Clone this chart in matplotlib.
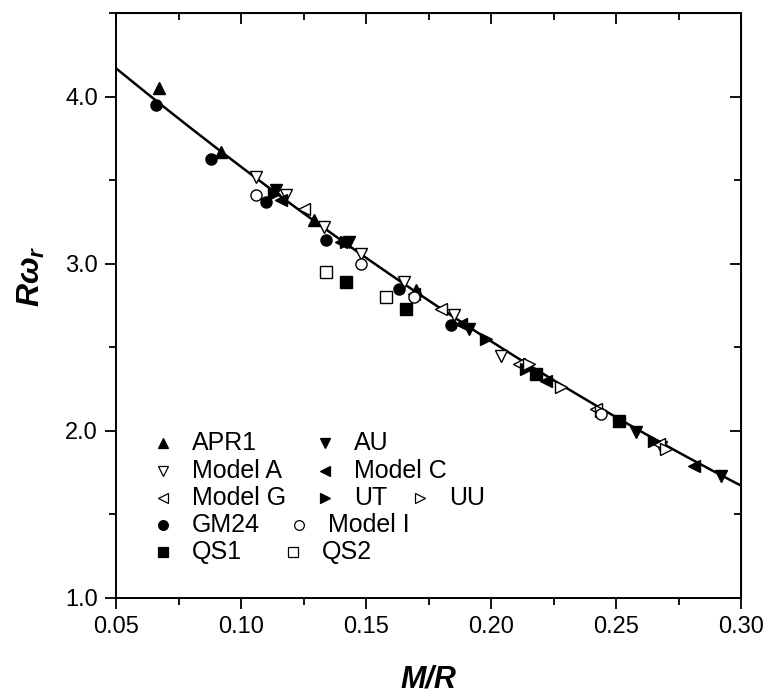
import numpy as np
import matplotlib
matplotlib.use("Agg")
import matplotlib.pyplot as plt
from matplotlib.ticker import MultipleLocator, FormatStrFormatter

plt.rcParams['font.family'] = ['Liberation Sans', 'DejaVu Sans']
plt.rcParams['mathtext.fontset'] = 'custom'
plt.rcParams['mathtext.it'] = 'Liberation Sans:italic:bold'
plt.rcParams['mathtext.rm'] = 'Liberation Sans:bold'

# compactness M/R and scaled r-mode frequency R*omega_r for each EOS
apr1_x = [0.067, 0.092, 0.129, 0.170]
apr1_y = [4.05, 3.67, 3.26, 2.84]
au_x = [0.114, 0.143, 0.191, 0.258, 0.292]
au_y = [3.44, 3.13, 2.61, 1.99, 1.73]
modelA_x = [0.106, 0.118, 0.133, 0.148, 0.165, 0.185, 0.204, 0.268]
modelA_y = [3.52, 3.41, 3.22, 3.06, 2.89, 2.69, 2.45, 1.90]
modelC_x = [0.116, 0.140, 0.169, 0.188, 0.222, 0.281]
modelC_y = [3.38, 3.13, 2.82, 2.64, 2.30, 1.79]
modelG_x = [0.125, 0.180, 0.211, 0.242, 0.267]
modelG_y = [3.33, 2.73, 2.40, 2.13, 1.92]
ut_x = [0.113, 0.142, 0.198, 0.214, 0.265]
ut_y = [3.42, 3.13, 2.55, 2.37, 1.94]
uu_x = [0.215, 0.228, 0.244, 0.270]
uu_y = [2.40, 2.26, 2.12, 1.89]
gm24_x = [0.066, 0.088, 0.110, 0.134, 0.163, 0.184]
gm24_y = [3.95, 3.63, 3.37, 3.14, 2.85, 2.63]
modelI_x = [0.106, 0.148, 0.169, 0.244]
modelI_y = [3.41, 3.00, 2.80, 2.10]
qs1_x = [0.142, 0.166, 0.218, 0.251]
qs1_y = [2.89, 2.73, 2.34, 2.06]
qs2_x = [0.134, 0.158]
qs2_y = [2.95, 2.80]

# quadratic fit  R*omega_r = c0 + c1*(M/R) + c2*(M/R)^2
fit_c0 = 4.805
fit_c1 = -13.15
fit_c2 = 9.0

series = [
    ("APR1", apr1_x, apr1_y, "^", "k"),
    ("AU", au_x, au_y, "v", "k"),
    ("Model A", modelA_x, modelA_y, "v", "w"),
    ("Model C", modelC_x, modelC_y, "<", "k"),
    ("Model G", modelG_x, modelG_y, "<", "w"),
    ("UT", ut_x, ut_y, ">", "k"),
    ("UU", uu_x, uu_y, ">", "w"),
    ("GM24", gm24_x, gm24_y, "o", "k"),
    ("Model I", modelI_x, modelI_y, "o", "w"),
    ("QS1", qs1_x, qs1_y, "s", "k"),
    ("QS2", qs2_x, qs2_y, "s", "w"),
]

fig = plt.figure(figsize=(7.69, 6.99), dpi=100)
ax = fig.add_axes([0.151, 0.145, 0.813, 0.836])

xf = np.linspace(0.05, 0.30, 200)
ax.plot(xf, fit_c0 + fit_c1 * xf + fit_c2 * xf**2, color="k", lw=1.8, zorder=3)

for name, xs, ys, mk, fc in series:
    ms = 8 if mk in ("o", "s") else 9
    ax.plot(xs, ys, ls="none", marker=mk, ms=ms, mfc=fc, mec="k", mew=1.0, zorder=4)

# hand-placed legend, rows of (marker, label) at axes coords
legend_rows = [
    [(0.075, "APR1"), (0.334, "AU")],
    [(0.075, "Model A"), (0.334, "Model C")],
    [(0.075, "Model G"), (0.334, "UT"), (0.486, "UU")],
    [(0.075, "GM24"), (0.293, "Model I")],
    [(0.075, "QS1"), (0.283, "QS2")],
]
style = {name: (mk, fc) for name, _, _, mk, fc in series}
for i, row in enumerate(legend_rows):
    yy = 0.264 - i * 0.0465
    for xx, name in row:
        mk, fc = style[name]
        ax.plot([xx], [yy], transform=ax.transAxes, ls="none", marker=mk, ms=7,
                mfc=fc, mec="k", mew=0.9, clip_on=False)
        ax.text(xx + 0.046, yy, name, transform=ax.transAxes, fontsize=18,
                va="center", ha="left")

ax.set_xlim(0.05, 0.30)
ax.set_ylim(1.0, 4.5)
ax.xaxis.set_major_locator(MultipleLocator(0.05))
ax.xaxis.set_minor_locator(MultipleLocator(0.025))
ax.yaxis.set_major_locator(MultipleLocator(1.0))
ax.yaxis.set_minor_locator(MultipleLocator(0.5))
ax.xaxis.set_major_formatter(FormatStrFormatter("%.2f"))
ax.yaxis.set_major_formatter(FormatStrFormatter("%.1f"))

ax.tick_params(which="both", direction="out", width=1.3, labelsize=17,
               top=False, right=False)
ax.tick_params(which="major", length=8, pad=5)
ax.tick_params(which="minor", length=5)
for s in ax.spines.values():
    s.set_linewidth(1.4)

# mirror ticks on top and right point inward
sec_x = ax.secondary_xaxis("top")
sec_x.xaxis.set_major_locator(MultipleLocator(0.05))
sec_x.xaxis.set_minor_locator(MultipleLocator(0.025))
sec_x.tick_params(which="both", direction="in", labeltop=False, width=1.3)
sec_x.tick_params(which="major", length=8)
sec_x.tick_params(which="minor", length=5)
sec_y = ax.secondary_yaxis("right")
sec_y.yaxis.set_major_locator(MultipleLocator(1.0))
sec_y.yaxis.set_minor_locator(MultipleLocator(0.5))
sec_y.tick_params(which="both", direction="in", labelright=False, width=1.3)
sec_y.tick_params(which="major", length=8)
sec_y.tick_params(which="minor", length=5)

ax.set_xlabel("M/R", fontsize=22, fontweight="bold", fontstyle="italic")
ax.xaxis.set_label_coords(0.5, -0.115)
ax.set_ylabel(r"$R\omega_r$", fontsize=23)
ax.yaxis.set_label_coords(-0.11, 0.55)

fig.savefig("out.png", dpi=100)
